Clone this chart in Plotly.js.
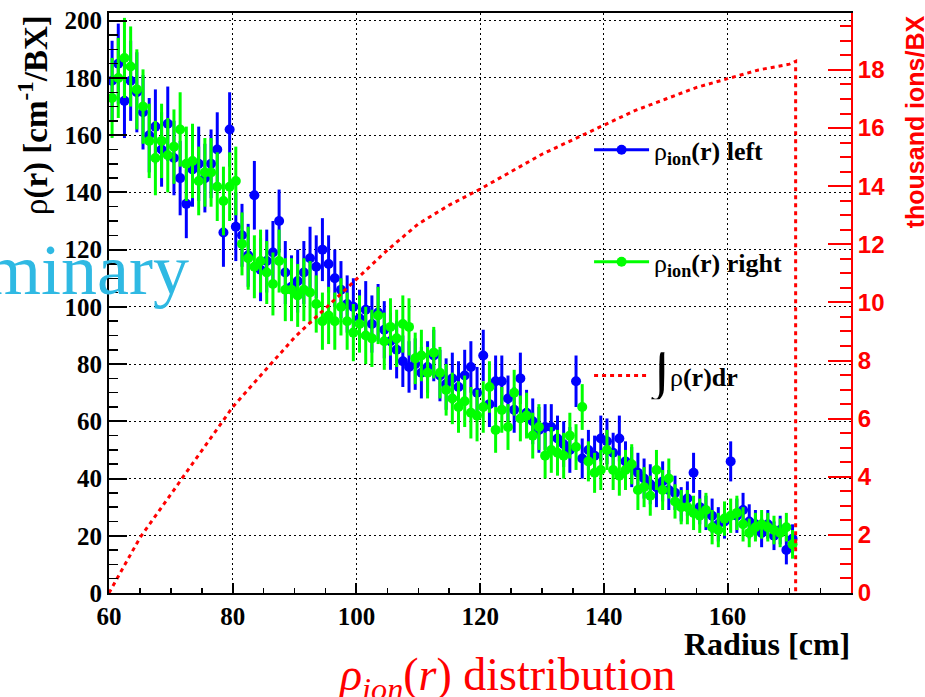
<!DOCTYPE html>
<html><head><meta charset="utf-8">
<script src="https://cdn.plot.ly/plotly-3.0.1.min.js"></script>
<style>html,body{margin:0;padding:0;background:#fff;}#chart{width:925px;height:697px;}</style>
</head><body><div id="chart"></div>
<script>
// Bin centres (cm)
const radius = [60.5,61.5,62.5,63.5,64.5,65.5,66.5,67.5,68.5,69.5,
70.5,71.5,72.5,73.5,74.5,75.5,76.5,77.5,78.5,79.5,
80.5,81.5,82.5,83.5,84.5,85.5,86.5,87.5,88.5,89.5,
90.5,91.5,92.5,93.5,94.5,95.5,96.5,97.5,98.5,99.5,
100.5,101.5,102.5,103.5,104.5,105.5,106.5,107.5,108.5,109.5,
110.5,111.5,112.5,113.5,114.5,115.5,116.5,117.5,118.5,119.5,
120.5,121.5,122.5,123.5,124.5,125.5,126.5,127.5,128.5,129.5,
130.5,131.5,132.5,133.5,134.5,135.5,136.5,137.5,138.5,139.5,
140.5,141.5,142.5,143.5,144.5,145.5,146.5,147.5,148.5,149.5,
150.5,151.5,152.5,153.5,154.5,155.5,156.5,157.5,158.5,159.5,
160.5,161.5,162.5,163.5,164.5,165.5,166.5,167.5,168.5,169.5,170.5];

// rho_ion(r) left (blue)
const rhoLeft = [179,185,172,179,175,168,160,163,155,164,
152,145,136,148,150,145,150,155,126,162,
128,125,118,139,113,116,119,130,112,107,
109,112,117,114,120,115,110,106,101,100,
96,99,94,98,92,88,85,81,79,80,
77,79,83,76,73,75,72,76,79,70,
83,66,74,74,68,64,75,63,60,57,
58,58,54,52,50,74,47,50,48,54,
53,49,54,46,44,42,40,38,37,39,
36,35,31,33,42,30,28,27,24,25,
46,27,29,25,24,21,24,20,22,15,19];
const errLeft = [14,14,13,14,14,13,13,13,13,13,
13,13,12,13,13,12,12,13,12,13,
12,11,11,12,11,11,11,11,11,11,
11,11,11,11,11,10,10,10,10,10,
10,10,10,10,10,10,10,9,9,9,
9,9,9,9,9,9,9,9,9,9,
9,8,9,9,8,8,9,8,8,8,
8,8,8,8,8,9,7,7,7,8,
8,7,8,7,7,7,7,7,7,7,
7,6,6,6,7,6,6,6,6,6,
7,6,6,6,5,5,5,5,5,5,5];

// rho_ion(r) right (green)
const rhoRight = [173,180,187,184,176,170,158,152,158,153,
156,162,150,151,144,147,147,142,137,142,
144,122,117,114,116,112,108,116,106,106,
104,106,105,101,95,97,95,100,95,91,
94,90,89,97,88,93,89,94,93,82,
83,77,84,77,71,68,65,67,63,62,
65,72,57,64,58,70,61,62,55,58,
48,50,49,48,55,51,65,46,42,43,
50,43,41,43,45,36,37,34,43,36,
40,32,30,30,28,27,29,23,22,26,
27,28,24,21,23,24,23,22,21,23,17];
const errRight = [14,14,14,14,14,13,13,13,13,13,
13,13,13,13,12,12,12,12,12,12,
12,11,11,11,11,11,11,11,11,11,
11,11,11,10,10,10,10,10,10,10,
10,10,10,10,10,10,10,10,10,9,
9,9,9,9,9,9,9,9,9,9,
9,9,8,8,8,8,8,8,8,8,
8,8,8,8,8,8,8,7,7,7,
7,7,7,7,7,7,7,7,7,7,
7,6,6,6,6,6,6,6,6,6,
6,6,6,5,5,5,5,5,5,5,5];

// Integral of rho (thousand ions / BX)
const intRadius = [60,65,70,75,80,85,90,95,100,105,110,115,120,125,130,135,140,145,150,155,160,165,170,171,171];
const intValue  = [0,1.9,3.4,4.9,6.4,7.6,8.8,9.8,10.8,11.8,12.7,13.35,13.9,14.5,15.1,15.6,16.1,16.6,17.0,17.4,17.7,18.0,18.2,18.3,0];

const BLUE = '#0000ff', GREEN = '#00ff00', RED = '#ff0000';
const serif = 'Liberation Serif', sans = 'Liberation Sans';

const traces = [
  {x: radius, y: rhoLeft, type: 'scatter', mode: 'markers', showlegend: false,
   marker: {color: BLUE, size: 10},
   error_y: {type: 'data', array: errLeft, color: BLUE, thickness: 3, width: 0}},
  {x: radius, y: rhoRight, type: 'scatter', mode: 'markers', showlegend: false,
   marker: {color: GREEN, size: 10},
   error_y: {type: 'data', array: errRight, color: GREEN, thickness: 3, width: 0}},
  {x: intRadius, y: intValue, yaxis: 'y2', type: 'scatter', mode: 'lines', showlegend: false,
   line: {color: RED, width: 3, dash: '4px,4px'}},
  {x: [null], y: [null], type: 'scatter', mode: 'lines+markers', legend: 'legend',
   name: 'ρ<sub><b>ion</b></sub><b>(r) left</b>', line: {color: BLUE, width: 3}, marker: {color: BLUE, size: 10}},
  {x: [null], y: [null], type: 'scatter', mode: 'lines+markers', legend: 'legend2',
   name: 'ρ<sub><b>ion</b></sub><b>(r) right</b>', line: {color: GREEN, width: 3}, marker: {color: GREEN, size: 10}},
  {x: [null], y: [null], type: 'scatter', mode: 'lines', legend: 'legend3',
   name: '<span style="font-size:58px">∫</span>ρ<b>(r)dr</b>', line: {color: RED, width: 3, dash: '4px,4px'}}
];

const legendBase = {x: 0.647, xanchor: 'left', yanchor: 'middle', bgcolor: 'rgba(0,0,0,0)',
  font: {family: serif, size: 26, color: '#000'}, itemwidth: 55};

const layout = {
  width: 925, height: 697,
  margin: {l: 109, r: 74, t: 13, b: 104, pad: 0},
  paper_bgcolor: '#fff', plot_bgcolor: '#fff',
  xaxis: {range: [60, 179.95], tickmode: 'linear', tick0: 60, dtick: 20,
    ticks: 'inside', ticklen: 10, tickwidth: 2, tickcolor: '#000',
    minor: {dtick: 5, tick0: 60, ticks: 'inside', ticklen: 5, tickwidth: 1.5, tickcolor: '#000', showgrid: false},
    showline: true, linecolor: '#000', linewidth: 2, mirror: true,
    showgrid: true, gridcolor: '#000', gridwidth: 1, griddash: '2px,3px', zeroline: false,
    tickfont: {family: serif, size: 25, color: '#000', weight: 'bold'}},
  yaxis: {range: [0, 202.7], tickmode: 'linear', tick0: 0, dtick: 20,
    ticks: 'inside', ticklen: 18, tickwidth: 2, tickcolor: '#000',
    minor: {dtick: 5, tick0: 0, ticks: 'inside', ticklen: 9, tickwidth: 1.5, tickcolor: '#000', showgrid: false},
    showline: true, linecolor: '#000', linewidth: 2,
    showgrid: true, gridcolor: '#000', gridwidth: 1, griddash: '2px,3px', zeroline: false,
    tickfont: {family: serif, size: 25, color: '#000', weight: 'bold'}},
  yaxis2: {overlaying: 'y', side: 'right', range: [0, 19.96], tickmode: 'linear', tick0: 0, dtick: 2,
    ticks: 'inside', ticklen: 23, tickwidth: 2, tickcolor: RED,
    minor: {dtick: 0.5, tick0: 0, ticks: 'inside', ticklen: 11, tickwidth: 2, tickcolor: RED, showgrid: false},
    showline: true, linecolor: RED, linewidth: 2, showgrid: false, zeroline: false,
    tickfont: {family: sans, size: 24, color: RED, weight: 'bold'}},
  legend: Object.assign({}, legendBase, {y: 0.764}),
  legend2: Object.assign({}, legendBase, {y: 0.571}),
  legend3: Object.assign({}, legendBase, {y: 0.3747}),
  annotations: [
    {text: 'Preliminary', xref: 'paper', yref: 'paper', x: 0.11, y: 0.557, xanchor: 'right', yanchor: 'middle',
     showarrow: false, font: {family: serif, size: 72, color: '#2fb9e3'}},
    {text: 'ρ<b>(r) [cm<sup>-1</sup>/BX]</b>', xref: 'paper', yref: 'paper', x: -0.1024, y: 1.0, xanchor: 'center', yanchor: 'top',
     textangle: -90, showarrow: false, font: {family: serif, size: 33, color: '#000'}},
    {text: '<b>thousand ions/BX</b>', xref: 'paper', yref: 'paper', x: 1.086, y: 1.0, xanchor: 'center', yanchor: 'top',
     textangle: -90, showarrow: false, font: {family: sans, size: 25, color: RED}},
    {text: '<b>Radius [cm]</b>', xref: 'paper', yref: 'paper', x: 1.0013, y: -0.0887, xanchor: 'right', yanchor: 'middle',
     showarrow: false, font: {family: serif, size: 32, color: '#000'}},
    {text: '<i>ρ</i><sub><i>ion</i></sub>(<i>r</i>) distribution', xref: 'paper', yref: 'paper', x: 0.536, y: -0.147,
     xanchor: 'center', yanchor: 'middle', showarrow: false, font: {family: serif, size: 46, color: RED}}
  ]
};

Plotly.newPlot('chart', traces, layout, {displayModeBar: false, staticPlot: true});
</script>
</body></html>
